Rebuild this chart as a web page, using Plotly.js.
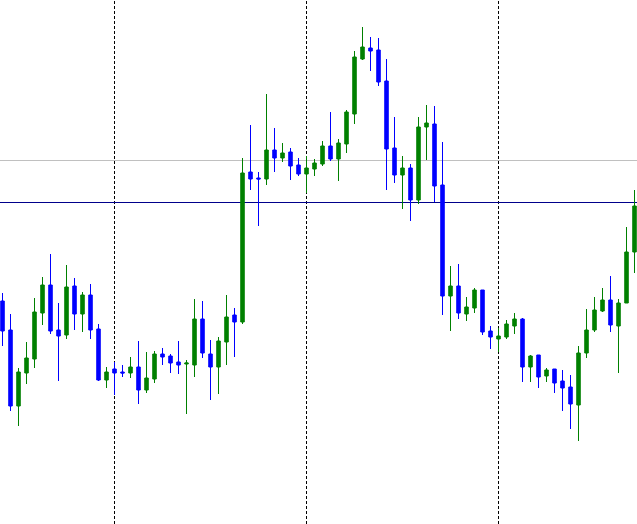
<!DOCTYPE html>
<html>
<head>
<meta charset="utf-8">
<script src="https://cdn.plot.ly/plotly-3.0.1.min.js"></script>
<style>html,body{margin:0;padding:0;background:#fff;overflow:hidden}#chart{width:637px;height:524px}</style>
</head>
<body>
<div id="chart"></div>
<script>
// Bar index (one per candle)
const bars = Array.from({length: 80}, (_, i) => i);
const open = [1199,1170,1094,1127,1141,1187,1215,1170,1165,1214,1186,1205,1171,1120,1131,1128,1127,1133,1110,1121,
              1146,1144,1138,1136,1135,1181,1146,1133,1158,1185,1178,1328,1322,1321,1350,1342,1348,1335,1326,1331,
              1336,1354,1341,1356,1386,1441,1452,1450,1419,1352,1325,1332,1300,1373,1376,1315,1204,1214,1186,1192,
              1210,1169,1161,1163,1174,1181,1133,1145,1124,1131,1119,1113,1095,1147,1170,1189,1200,1174,1197,1248];
const high = [1207,1186,1132,1158,1202,1223,1246,1197,1235,1222,1208,1216,1176,1133,1138,1135,1143,1159,1148,1149,
              1152,1146,1159,1140,1201,1199,1160,1163,1205,1192,1342,1375,1328,1406,1372,1357,1352,1342,1344,1341,
              1359,1388,1361,1390,1449,1473,1463,1462,1441,1383,1344,1336,1383,1395,1394,1358,1234,1236,1203,1212,
              1210,1174,1172,1180,1187,1182,1145,1145,1132,1131,1130,1125,1154,1191,1203,1212,1224,1201,1273,1310];
const low  = [1154,1089,1074,1116,1132,1175,1166,1119,1161,1170,1168,1161,1119,1112,1105,1123,1122,1096,1107,1117,
              1135,1127,1126,1086,1123,1142,1100,1106,1135,1143,1176,1310,1274,1315,1328,1338,1320,1324,1307,1324,
              1334,1339,1319,1347,1376,1440,1429,1414,1310,1317,1291,1279,1296,1340,1298,1185,1169,1181,1179,1187,
              1165,1151,1148,1161,1166,1118,1118,1112,1118,1107,1089,1071,1059,1142,1168,1188,1168,1127,1197,1227];
const close= [1169,1094,1128,1142,1188,1215,1169,1164,1213,1186,1205,1170,1120,1128,1127,1127,1133,1110,1122,1146,
              1143,1137,1135,1137,1181,1147,1133,1159,1183,1178,1327,1321,1321,1350,1342,1347,1334,1326,1332,1337,
              1354,1341,1357,1388,1443,1453,1449,1418,1351,1325,1332,1300,1373,1377,1314,1204,1214,1187,1193,1210,
              1168,1163,1164,1176,1181,1133,1144,1123,1130,1117,1112,1096,1147,1170,1190,1200,1175,1197,1248,1294];
// Period separators (bar index) and horizontal price levels
const separators = [14, 38, 62];
const levelGray = 1339.5;
const levelBlue = 1297.5;

const trace = {
  type: 'candlestick',
  x: bars, open: open, high: high, low: low, close: close,
  increasing: {line: {color: '#008000', width: 1}, fillcolor: '#008000'},
  decreasing: {line: {color: '#0000FF', width: 1}, fillcolor: '#0000FF'},
  whiskerwidth: 0,
  hoverinfo: 'skip'
};

const shapes = [];
separators.forEach(s => shapes.push({
  type: 'line', xref: 'x', yref: 'paper', x0: s, x1: s, y0: 0, y1: 1,
  line: {color: '#000000', width: 1, dash: '3px,2px'}, layer: 'below'
}));
shapes.push({type: 'line', xref: 'paper', yref: 'y', x0: 0, x1: 1, y0: levelGray, y1: levelGray,
  line: {color: '#C0C0C0', width: 1}, layer: 'below'});
shapes.push({type: 'line', xref: 'paper', yref: 'y', x0: 0, x1: 1, y0: levelBlue, y1: levelBlue,
  line: {color: '#00008B', width: 1}, layer: 'below'});

const layout = {
  width: 637, height: 524,
  margin: {l: 0, r: 0, t: 0, b: 0, pad: 0},
  paper_bgcolor: '#ffffff', plot_bgcolor: '#ffffff',
  showlegend: false,
  boxgap: 0.375,
  xaxis: {range: [-0.3125, 79.3125], visible: false, rangeslider: {visible: false}, fixedrange: true},
  yaxis: {range: [976, 1500], visible: false, fixedrange: true},
  shapes: shapes
};

Plotly.newPlot('chart', [trace], layout, {staticPlot: true, displayModeBar: false});
</script>
</body>
</html>
